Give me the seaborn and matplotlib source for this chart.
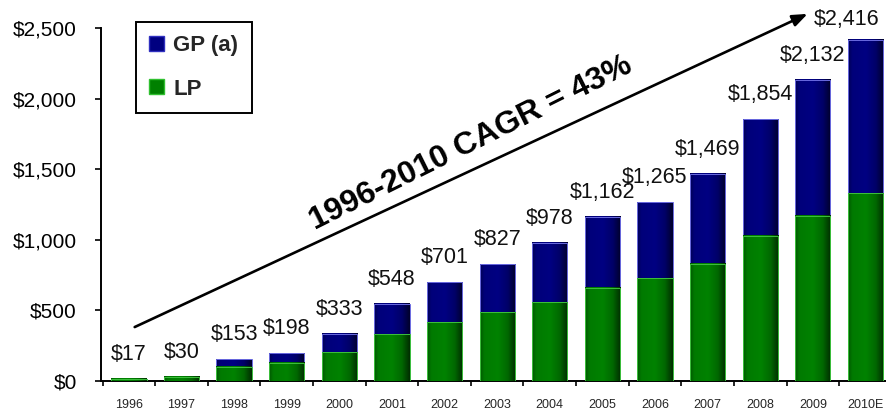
import numpy as np
import pandas as pd
import matplotlib
matplotlib.use("Agg")
import matplotlib.pyplot as plt
from matplotlib.colors import LinearSegmentedColormap
from matplotlib.patches import Patch
import seaborn as sns

# data
years = ["1996", "1997", "1998", "1999", "2000", "2001", "2002", "2003",
         "2004", "2005", "2006", "2007", "2008", "2009", "2010E"]
totals = [17, 30, 153, 198, 333, 548, 701, 827, 978, 1162, 1265, 1469, 1854, 2132, 2416]
lp = [17, 30, 101, 131, 203, 331, 416, 486, 559, 660, 729, 829, 1027, 1169, 1331]
gp = [t - l for t, l in zip(totals, lp)]

df = pd.DataFrame({"year": years, "total": totals, "LP": lp, "GP": gp})

sns.set_style("white")
plt.rcParams["font.family"] = ["Liberation Sans", "DejaVu Sans"]

GP_COLOR = "#000080"
LP_COLOR = "#008000"

fig = plt.figure(figsize=(8.86, 4.12), dpi=100)
ax = fig.add_axes([101 / 886, 31 / 412, 785 / 886, 353 / 412])

# stacked bars: total (GP on top) then LP over it
sns.barplot(data=df, x="year", y="total", color=GP_COLOR, width=0.67,
            saturation=1, ax=ax, zorder=2)
sns.barplot(data=df, x="year", y="LP", color=LP_COLOR, width=0.67,
            saturation=1, ax=ax, zorder=3)

# cylinder-like shading on every bar, taken from the bar patches
shade_gp = LinearSegmentedColormap.from_list(
    "gp", [(0, "#000055"), (0.12, "#00007a"), (0.5, "#000082"),
           (0.78, "#000068"), (1, "#00002c")])
shade_lp = LinearSegmentedColormap.from_list(
    "lp", [(0, "#005a00"), (0.12, "#007a00"), (0.5, "#008200"),
           (0.78, "#006800"), (1, "#002e00")])
grad = np.linspace(0, 1, 64).reshape(1, -1)
n = len(years)
for i, p in enumerate(ax.patches):
    x0, y0, w, h = p.get_x(), p.get_y(), p.get_width(), p.get_height()
    if h <= 0:
        continue
    gp_bar = i < n
    cmap = shade_gp if gp_bar else shade_lp
    z = p.get_zorder()
    ax.imshow(grad, extent=[x0, x0 + w, y0, y0 + h], aspect="auto",
              cmap=cmap, zorder=z + 0.1, interpolation="bilinear")
    p.set_facecolor("none")
    p.set_edgecolor("#6a6ae0" if gp_bar else "#3cc03c")
    p.set_linewidth(0.7)
    p.set_zorder(z + 0.2)

ax.set_xlim(-0.53, 14.39)
ax.set_ylim(0, 2500)

# value labels
for i, t in enumerate(totals):
    dx = -0.35 if i == n - 1 else 0
    dy = 15 if i == n - 1 else 19
    ax.annotate(f"${t:,}", xy=(i + dx, t), xytext=(0, dy * 0.72),
                textcoords="offset points", ha="center", va="baseline",
                fontsize=15.5, color="#111111", annotation_clip=False)

# growth arrow and CAGR text
ax.annotate("", xy=(12.9, 2600), xytext=(0.11, 382),
            arrowprops=dict(arrowstyle="-|>,head_length=0.9,head_width=0.35",
                            color="black", lw=1.9, shrinkA=0, shrinkB=0),
            annotation_clip=False)
ax.text(6.5, 1680, "1996-2010 CAGR = 43%", rotation=26.5,
        rotation_mode="anchor", ha="center", va="center",
        fontsize=23, fontweight="bold", color="black")

# axes styling
for s in ["top", "right"]:
    ax.spines[s].set_visible(False)
for s in ["left", "bottom"]:
    ax.spines[s].set_color("black")
    ax.spines[s].set_linewidth(1.4)

ax.set_xlabel("")
ax.set_ylabel("")
ax.set_yticks(range(0, 2501, 500))
ax.set_yticklabels([f"${v:,}" for v in range(0, 2501, 500)], fontsize=15)
ax.tick_params(axis="y", direction="out", length=4.5, width=1.2, pad=13,
               left=True, colors="black")
ax.set_xticks(range(n))
ax.set_xticklabels(years, fontsize=9)
ax.tick_params(axis="x", which="major", length=0, pad=13)
ax.set_xticks(np.arange(-0.5, n - 1, 1.0), minor=True)
ax.tick_params(axis="x", which="minor", direction="out", length=3.5,
               width=1.2, bottom=True, colors="black")

handles = [Patch(facecolor=GP_COLOR, edgecolor="#3030c0", label="GP (a)"),
           Patch(facecolor=LP_COLOR, edgecolor="#30c030", label="LP")]
leg = ax.legend(handles=handles, loc="upper left",
                bbox_to_anchor=(136 / 886, 1 - 22 / 412),
                bbox_transform=fig.transFigure, borderaxespad=0,
                prop={"weight": "bold", "size": 16}, frameon=True,
                fancybox=False, edgecolor="black", framealpha=1,
                handlelength=0.68, handleheight=0.68, handletextpad=0.4,
                labelspacing=1.0, borderpad=0.6)
leg.get_frame().set_linewidth(1.4)

fig.savefig("out.png", dpi=100)
